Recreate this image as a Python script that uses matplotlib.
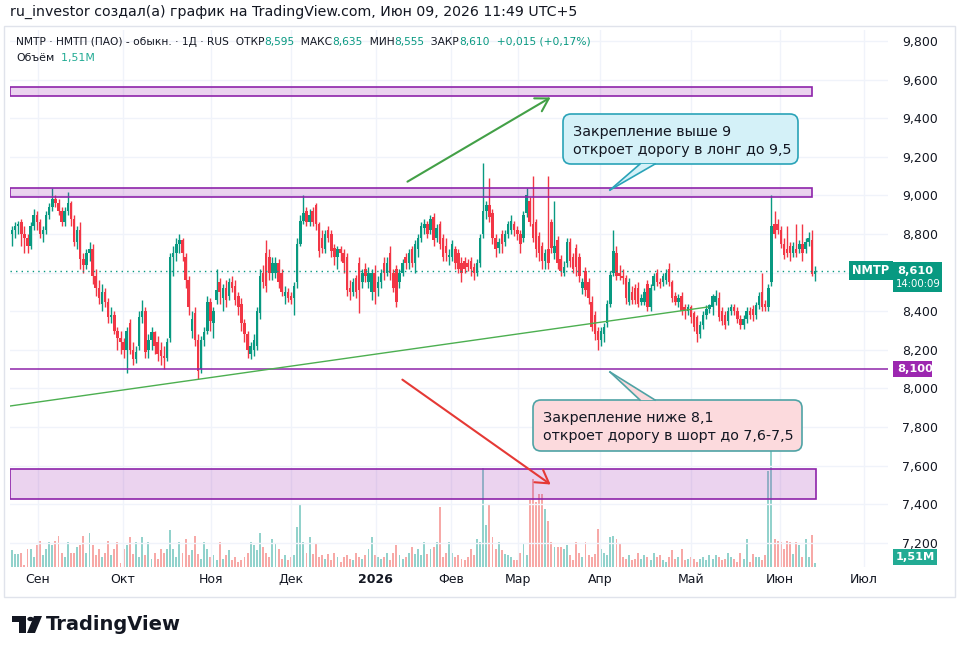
import matplotlib
matplotlib.use('Agg')
import numpy as np
import matplotlib.pyplot as plt
import matplotlib.transforms as mtransforms
from matplotlib.patches import Rectangle, FancyBboxPatch, Polygon, Circle

plt.rcParams['font.family'] = ['DejaVu Sans']

# daily candles, Aug 2025 - Jun 09 2026
opens = [8.80, 8.82, 8.84, 8.86, 8.80, 8.78, 8.74, 8.84, 8.90, 8.86,
         8.80, 8.82, 8.90, 8.94, 8.98, 8.96, 8.92, 8.86, 8.92, 8.96,
         8.88, 8.76, 8.82, 8.67, 8.64, 8.70, 8.72, 8.58, 8.52, 8.44,
         8.50, 8.45, 8.37, 8.38, 8.30, 8.26, 8.24, 8.20, 8.34, 8.20,
         8.15, 8.22, 8.37, 8.40, 8.20, 8.25, 8.29, 8.24, 8.20, 8.17,
         8.16, 8.26, 8.68, 8.70, 8.75, 8.77, 8.68, 8.56, 8.30, 8.39,
         8.25, 8.10, 8.25, 8.30, 8.45, 8.34, 8.46, 8.55, 8.47, 8.52,
         8.48, 8.55, 8.53, 8.48, 8.44, 8.34, 8.28, 8.18, 8.20, 8.22,
         8.39, 8.60, 8.70, 8.68, 8.60, 8.60, 8.65, 8.60, 8.48, 8.50,
         8.48, 8.47, 8.55, 8.75, 8.87, 8.92, 8.86, 8.92, 8.95, 8.85,
         8.78, 8.72, 8.82, 8.80, 8.73, 8.68, 8.72, 8.70, 8.68, 8.52,
         8.50, 8.57, 8.65, 8.55, 8.62, 8.55, 8.50, 8.60, 8.52, 8.55,
         8.65, 8.60, 8.70, 8.60, 8.62, 8.55, 8.60, 8.68, 8.65, 8.72,
         8.65, 8.72, 8.78, 8.83, 8.85, 8.82, 8.89, 8.78, 8.85, 8.78,
         8.74, 8.68, 8.68, 8.72, 8.70, 8.65, 8.66, 8.65, 8.66, 8.63,
         8.60, 8.65, 8.80, 8.92, 8.95, 8.91, 8.78, 8.73, 8.80, 8.76,
         8.80, 8.82, 8.85, 8.82, 8.80, 8.78, 8.91, 8.97, 8.85, 8.86,
         8.79, 8.74, 8.66, 8.72, 8.86, 8.70, 8.77, 8.67, 8.60, 8.65,
         8.76, 8.68, 8.73, 8.68, 8.52, 8.61, 8.55, 8.45, 8.38, 8.30,
         8.25, 8.28, 8.34, 8.44, 8.60, 8.70, 8.60, 8.58, 8.57, 8.45,
         8.50, 8.52, 8.52, 8.45, 8.45, 8.54, 8.42, 8.53, 8.60, 8.55,
         8.55, 8.56, 8.62, 8.55, 8.48, 8.45, 8.48, 8.42, 8.40, 8.42,
         8.39, 8.37, 8.28, 8.33, 8.38, 8.41, 8.42, 8.45, 8.47, 8.40,
         8.38, 8.35, 8.40, 8.42, 8.40, 8.36, 8.33, 8.36, 8.40, 8.41,
         8.38, 8.43, 8.50, 8.44, 8.42, 8.55, 8.85, 8.85, 8.82, 8.75,
         8.72, 8.74, 8.70, 8.72, 8.72, 8.75, 8.72, 8.76, 8.77, 8.595]

highs = [8.84, 8.86, 8.87, 8.88, 8.84, 8.80, 8.86, 8.93, 8.92, 8.88,
         8.84, 8.92, 8.96, 9.04, 9.00, 8.98, 8.94, 8.94, 9.02, 8.97,
         8.90, 8.84, 8.86, 8.70, 8.72, 8.76, 8.75, 8.62, 8.56, 8.54,
         8.52, 8.47, 8.42, 8.40, 8.32, 8.30, 8.26, 8.32, 8.36, 8.24,
         8.22, 8.40, 8.46, 8.42, 8.28, 8.32, 8.30, 8.27, 8.24, 8.22,
         8.26, 8.70, 8.74, 8.78, 8.80, 8.78, 8.70, 8.58, 8.40, 8.42,
         8.28, 8.27, 8.32, 8.48, 8.47, 8.42, 8.62, 8.57, 8.54, 8.56,
         8.57, 8.58, 8.56, 8.50, 8.47, 8.36, 8.30, 8.24, 8.28, 8.42,
         8.62, 8.64, 8.77, 8.72, 8.68, 8.68, 8.67, 8.62, 8.53, 8.52,
         8.50, 8.55, 8.78, 8.90, 9.00, 8.94, 8.93, 8.94, 8.96, 8.86,
         8.82, 8.82, 8.84, 8.82, 8.75, 8.74, 8.74, 8.72, 8.70, 8.56,
         8.57, 8.59, 8.68, 8.62, 8.65, 8.63, 8.62, 8.64, 8.58, 8.62,
         8.68, 8.68, 8.74, 8.62, 8.64, 8.62, 8.67, 8.70, 8.72, 8.74,
         8.77, 8.80, 8.86, 8.88, 8.87, 8.90, 8.91, 8.85, 8.87, 8.80,
         8.78, 8.72, 8.77, 8.74, 8.72, 8.68, 8.68, 8.67, 8.68, 8.65,
         8.67, 8.80, 9.17, 8.97, 9.09, 8.93, 8.80, 8.78, 8.82, 8.82,
         8.87, 8.90, 8.87, 8.84, 8.82, 8.92, 9.04, 8.99, 9.10, 8.88,
         8.81, 8.76, 8.72, 9.10, 8.88, 8.97, 8.79, 8.69, 8.66, 8.78,
         8.78, 8.70, 8.75, 8.70, 8.57, 8.63, 8.57, 8.48, 8.40, 8.32,
         8.32, 8.34, 8.46, 8.61, 8.82, 8.74, 8.64, 8.62, 8.59, 8.57,
         8.53, 8.54, 8.55, 8.49, 8.52, 8.56, 8.54, 8.60, 8.62, 8.57,
         8.60, 8.62, 8.65, 8.56, 8.50, 8.49, 8.50, 8.44, 8.44, 8.43,
         8.40, 8.38, 8.35, 8.40, 8.43, 8.44, 8.49, 8.51, 8.50, 8.42,
         8.40, 8.42, 8.44, 8.44, 8.42, 8.38, 8.38, 8.42, 8.42, 8.43,
         8.45, 8.50, 8.60, 8.46, 8.54, 9.00, 8.92, 8.88, 8.84, 8.78,
         8.84, 8.76, 8.76, 8.85, 8.77, 8.85, 8.78, 8.81, 8.82, 8.635]

lows = [8.74, 8.78, 8.80, 8.74, 8.70, 8.70, 8.72, 8.82, 8.82, 8.78,
        8.76, 8.80, 8.88, 8.92, 8.94, 8.90, 8.84, 8.84, 8.90, 8.84,
        8.74, 8.72, 8.62, 8.60, 8.62, 8.66, 8.54, 8.48, 8.44, 8.40,
        8.42, 8.34, 8.34, 8.28, 8.20, 8.18, 8.16, 8.08, 8.18, 8.12,
        8.13, 8.20, 8.34, 8.16, 8.16, 8.20, 8.18, 8.14, 8.12, 8.10,
        8.14, 8.24, 8.58, 8.66, 8.70, 8.66, 8.52, 8.38, 8.26, 8.22,
        8.05, 8.08, 8.22, 8.28, 8.30, 8.26, 8.44, 8.44, 8.40, 8.42,
        8.46, 8.50, 8.43, 8.38, 8.30, 8.24, 8.16, 8.15, 8.17, 8.20,
        8.36, 8.52, 8.50, 8.56, 8.56, 8.57, 8.52, 8.48, 8.44, 8.45,
        8.44, 8.38, 8.52, 8.74, 8.85, 8.84, 8.84, 8.84, 8.82, 8.68,
        8.70, 8.70, 8.76, 8.68, 8.64, 8.62, 8.66, 8.60, 8.48, 8.46,
        8.48, 8.47, 8.39, 8.52, 8.55, 8.52, 8.46, 8.44, 8.48, 8.52,
        8.56, 8.58, 8.56, 8.50, 8.42, 8.52, 8.58, 8.62, 8.62, 8.63,
        8.60, 8.68, 8.76, 8.80, 8.78, 8.80, 8.74, 8.76, 8.72, 8.66,
        8.66, 8.64, 8.66, 8.62, 8.60, 8.55, 8.60, 8.61, 8.58, 8.56,
        8.58, 8.63, 8.78, 8.88, 8.86, 8.75, 8.68, 8.70, 8.70, 8.74,
        8.78, 8.80, 8.79, 8.77, 8.70, 8.76, 8.89, 8.84, 8.76, 8.68,
        8.66, 8.62, 8.62, 8.62, 8.70, 8.67, 8.62, 8.58, 8.58, 8.63,
        8.63, 8.60, 8.58, 8.55, 8.49, 8.48, 8.44, 8.30, 8.25, 8.20,
        8.22, 8.24, 8.32, 8.42, 8.58, 8.56, 8.56, 8.54, 8.44, 8.43,
        8.44, 8.44, 8.42, 8.43, 8.43, 8.40, 8.40, 8.51, 8.53, 8.52,
        8.53, 8.54, 8.53, 8.45, 8.43, 8.42, 8.38, 8.36, 8.38, 8.34,
        8.30, 8.24, 8.26, 8.31, 8.36, 8.39, 8.38, 8.43, 8.35, 8.33,
        8.31, 8.33, 8.38, 8.38, 8.34, 8.31, 8.31, 8.34, 8.36, 8.35,
        8.36, 8.41, 8.40, 8.40, 8.40, 8.53, 8.78, 8.80, 8.73, 8.67,
        8.68, 8.66, 8.68, 8.68, 8.70, 8.66, 8.70, 8.74, 8.58, 8.555]

closes = [8.82, 8.84, 8.85, 8.80, 8.78, 8.74, 8.84, 8.90, 8.86, 8.80,
          8.82, 8.90, 8.94, 8.98, 8.96, 8.92, 8.86, 8.92, 8.96, 8.88,
          8.76, 8.82, 8.67, 8.64, 8.70, 8.72, 8.58, 8.52, 8.47, 8.50,
          8.45, 8.37, 8.38, 8.30, 8.26, 8.24, 8.20, 8.30, 8.20, 8.15,
          8.19, 8.37, 8.40, 8.19, 8.25, 8.29, 8.22, 8.18, 8.17, 8.16,
          8.24, 8.68, 8.70, 8.75, 8.77, 8.70, 8.56, 8.42, 8.36, 8.25,
          8.09, 8.25, 8.29, 8.45, 8.35, 8.40, 8.51, 8.50, 8.52, 8.46,
          8.55, 8.52, 8.46, 8.42, 8.34, 8.28, 8.20, 8.22, 8.25, 8.40,
          8.58, 8.55, 8.53, 8.60, 8.65, 8.65, 8.55, 8.50, 8.50, 8.47,
          8.46, 8.53, 8.75, 8.87, 8.91, 8.86, 8.90, 8.86, 8.85, 8.71,
          8.73, 8.80, 8.78, 8.71, 8.68, 8.72, 8.70, 8.65, 8.51, 8.50,
          8.55, 8.50, 8.51, 8.60, 8.58, 8.60, 8.60, 8.50, 8.55, 8.60,
          8.60, 8.65, 8.60, 8.52, 8.45, 8.60, 8.65, 8.65, 8.70, 8.65,
          8.75, 8.78, 8.84, 8.85, 8.80, 8.88, 8.77, 8.83, 8.75, 8.68,
          8.70, 8.69, 8.75, 8.65, 8.62, 8.60, 8.62, 8.63, 8.62, 8.60,
          8.65, 8.78, 8.92, 8.95, 8.89, 8.78, 8.72, 8.76, 8.75, 8.80,
          8.85, 8.87, 8.82, 8.80, 8.75, 8.90, 9.00, 8.86, 8.78, 8.72,
          8.70, 8.66, 8.70, 8.65, 8.73, 8.74, 8.65, 8.61, 8.63, 8.76,
          8.66, 8.62, 8.63, 8.58, 8.55, 8.51, 8.47, 8.32, 8.28, 8.25,
          8.30, 8.32, 8.44, 8.59, 8.71, 8.58, 8.58, 8.57, 8.47, 8.55,
          8.46, 8.46, 8.44, 8.47, 8.50, 8.42, 8.52, 8.58, 8.55, 8.54,
          8.58, 8.60, 8.55, 8.47, 8.45, 8.47, 8.40, 8.40, 8.42, 8.37,
          8.32, 8.28, 8.33, 8.38, 8.41, 8.43, 8.48, 8.48, 8.37, 8.35,
          8.33, 8.40, 8.42, 8.40, 8.36, 8.33, 8.36, 8.40, 8.38, 8.38,
          8.43, 8.48, 8.42, 8.42, 8.52, 8.84, 8.80, 8.82, 8.75, 8.69,
          8.70, 8.70, 8.74, 8.70, 8.75, 8.70, 8.76, 8.78, 8.595, 8.61]

# volume, millions
volumes = [7, 5.5, 5.5, 6, 1, 7.5, 7.5, 4, 9,
           11, 5, 7.5, 10.5, 9, 11, 13, 6, 4,
           10.5, 6, 6, 8.5, 9, 13, 6, 14, 9, 5,
           7.5, 4, 6, 11, 5, 7.5, 10.5, 1.5, 7.5, 9,
           12.5, 5.5, 10.5, 4, 12.5, 5, 10.5, 3.5, 6, 3.5,
           7.5, 6, 7.5, 15.5, 7.5, 4, 10.5, 6, 11.5, 5,
           7, 13, 5.5, 3.5, 10.5, 7.5, 4, 5, 3, 10.5,
           3.5, 5, 7, 3, 4, 2, 3, 4, 6, 10.5, 9, 7,
           14, 8.5, 6, 4, 11.5, 9.5, 7.5, 3.5, 5, 3, 4, 5,
           16.5, 26, 10.5, 6, 12.5, 5.5, 9.5, 4,
           5, 3.5, 5.5, 3, 6, 4, 2, 4, 5, 3.5, 3, 6, 4, 3.5, 5, 7.5,
           12.5, 5, 4, 3.5, 4, 6, 3, 6, 9, 5, 3.5, 4, 6, 8.5, 5.5, 7.5, 5, 10.5, 5.5, 7.5,
           8.5, 10.5, 25, 4, 6, 10.5, 6, 4, 5, 3.5, 3, 4,
           7.5, 5, 11.5, 10.5,
           41.5, 17.5, 26, 12.5,
           7.5, 10.5, 7, 5.5, 5, 4, 3, 3, 6, 9.5, 5,
           28, 36.5, 27, 30.5, 30.5, 24, 19, 10.5, 8.5, 8.5,
           8.5, 7.5, 9, 5, 3, 10.5, 6, 4, 10.5, 5, 4, 5.5, 16, 7.5, 6, 5, 12.5, 13,
           11.5, 9.5, 4, 3.5, 5, 3, 3.5, 6, 3.5, 5, 4, 3, 6, 4, 5, 3, 2, 4, 7, 3.5,
           4, 7.5, 3, 3.5, 4, 3.5, 2, 3.5, 4, 3, 5, 3.5, 5, 4, 3, 3.5, 6, 4, 3.5, 2,
           6, 3.5, 11.5, 2, 5.5, 4, 4, 3, 5,
           40, 52,
           11.5, 11, 10.5, 7.5, 11, 10.5, 5.5, 10.5, 9, 4, 11.5, 4, 13.5, 1.51]

month_labels = ['Сен', 'Окт', 'Ноя', 'Дек', '2026', 'Фев', 'Мар', 'Апр', 'Май', 'Июн', 'Июл']
month_pos = [8.4, 35.8, 64.2, 90, 117.4, 141.6, 163.2, 189.7, 219, 247.7, 274.8]
price_ticks = [7.2, 7.4, 7.6, 7.8, 8.0, 8.2, 8.4, 8.6, 8.8, 9.0, 9.2, 9.4, 9.6, 9.8]

# drawings: (low, high, right end in bars)
zones = [(9.515, 9.562, 258), (8.992, 9.038, 258), (7.427, 7.582, 259.4)]
support = 8.1
last_price = 8.61
trend = ([-0.65, 224.5], [7.909, 8.422])
green_arrow = ((126.8, 9.064), (174.5, 9.515))
red_arrow = ((125.2, 8.054), (174.5, 7.494))

GREEN = '#089981'
RED = '#f23645'
PURPLE = '#8e24aa'
TXT = '#131722'

W, H = 965, 654
def fx(px): return px / W
def fy(py): return 1 - py / H

fig = plt.figure(figsize=(W / 100, H / 100), dpi=100)
fig.patch.set_facecolor('white')

ax = fig.add_axes([fx(10), fy(567), fx(888) - fx(10), fy(30) - fy(567)])
vax = ax.twinx()
ax.set_zorder(vax.get_zorder() + 1)
ax.patch.set_visible(False)

o = np.array(opens); h = np.array(highs); l = np.array(lows); c = np.array(closes)
x = np.arange(len(c))
up = c >= o
cols = np.where(up, GREEN, RED)

# volume
vcols = np.where(up, '#92d2cc', '#f7a9a7')
vax.bar(x, volumes, width=0.62, color=vcols, linewidth=0)
vax.set_ylim(0, 224)
vax.set_axis_off()

# candles
ax.vlines(x, l, h, colors=cols, linewidth=1.0, zorder=3)
ax.bar(x, np.maximum(np.abs(c - o), 0.004), bottom=np.minimum(o, c), width=0.8,
       color=cols, linewidth=0, zorder=4)

ax.set_xlim(-0.65, 282.6)
ax.set_ylim(7.075, 9.857)

# grid / ticks (8,600 sits under the last-price tag)
ax.set_xticks(month_pos)
ax.set_xticklabels(month_labels)
for t in ax.get_xticklabels():
    if t.get_text() == '2026':
        t.set_fontweight('bold')
ax.set_yticks(price_ticks)
ax.set_yticklabels(['' if abs(v - last_price) < 0.05 else f'{v:.3f}'.replace('.', ',')
                    for v in price_ticks])
ax.yaxis.tick_right()
ax.tick_params(axis='y', length=0, pad=10, labelsize=9, colors=TXT)
ax.tick_params(axis='x', length=0, pad=4, labelsize=9, colors=TXT)
ax.grid(True, color='#f0f3fa', linewidth=1)
ax.set_axisbelow(True)
for s in ax.spines.values():
    s.set_visible(False)

# zones and levels
for lo, hi, right in zones:
    ax.add_patch(Rectangle((-0.65, lo), right + 0.65, hi - lo,
                           facecolor=(156 / 255, 39 / 255, 176 / 255, 0.2),
                           edgecolor=PURPLE, linewidth=1.2, zorder=5))
ax.axhline(support, color=PURPLE, linewidth=1.1, zorder=5)
ax.axhline(last_price, color=GREEN, linewidth=1, linestyle=(0, (1, 3)), zorder=5)
ax.plot(trend[0], trend[1], color='#4caf50', linewidth=1, zorder=5)

ax.annotate('', xy=green_arrow[1], xytext=green_arrow[0],
            arrowprops=dict(arrowstyle='->,head_length=0.5,head_width=0.3',
                            color='#43a047', lw=1.5, mutation_scale=18), zorder=6)
ax.annotate('', xy=red_arrow[1], xytext=red_arrow[0],
            arrowprops=dict(arrowstyle='->,head_length=0.5,head_width=0.3',
                            color='#e53935', lw=1.5, mutation_scale=18), zorder=6)

# price scale tags
tb = mtransforms.blended_transform_factory(ax.transAxes, ax.transData)
ppx = (9.857 - 7.075) / 537
def axf(px): return (px - 10) / 878

ax.text(axf(871), last_price, 'NMTP', transform=tb, ha='center', va='center',
        fontsize=8.3, fontweight='bold', color='white', zorder=20,
        bbox=dict(boxstyle='square,pad=0.25', fc=GREEN, ec='none'))
ax.add_patch(Rectangle((axf(893), last_price - 21.5 * ppx), axf(942) - axf(893), 30 * ppx,
                       transform=tb, facecolor=GREEN, edgecolor='none', clip_on=False, zorder=20))
ax.text(axf(897), last_price, '8,610', transform=tb, va='center', fontsize=8.2,
        fontweight='bold', color='white', zorder=21, clip_on=False)
ax.text(axf(896), last_price - 13.5 * ppx, '14:00:09', transform=tb, va='center', fontsize=7.3,
        color='white', zorder=21, clip_on=False)

ax.add_patch(Rectangle((axf(893), support - 8 * ppx), axf(932) - axf(893), 16 * ppx,
                       transform=tb, facecolor='#9c27b0', edgecolor='none', clip_on=False, zorder=20))
ax.text(axf(897), support, '8,100', transform=tb, va='center', fontsize=8.2,
        fontweight='bold', color='white', zorder=21, clip_on=False)

fig.add_artist(Rectangle((fx(893), fy(565)), fx(937) - fx(893), fy(549) - fy(565),
                         transform=fig.transFigure, facecolor='#22ab94', edgecolor='none'))
fig.text(fx(915), fy(557), '1,51M', ha='center', va='center', fontsize=8.2,
         fontweight='bold', color='white')

# callouts
def callout(x0, y0, x1, y1, fc, ec, tip, base):
    fig.add_artist(FancyBboxPatch((fx(x0), fy(y1)), fx(x1) - fx(x0), fy(y0) - fy(y1),
                                  boxstyle=f'round,pad=0,rounding_size={8 / W}',
                                  mutation_aspect=W / H, transform=fig.transFigure,
                                  facecolor=fc, edgecolor=ec, linewidth=1.2, zorder=7))
    pts = [(fx(tip[0]), fy(tip[1])), (fx(base[0]), fy(base[2])), (fx(base[1]), fy(base[2]))]
    fig.add_artist(Polygon(pts, closed=True, transform=fig.transFigure,
                           facecolor=fc, edgecolor='none', zorder=8))
    for p in pts[1:]:
        fig.add_artist(plt.Line2D([pts[0][0], p[0]], [pts[0][1], p[1]],
                                  transform=fig.transFigure, color=ec, linewidth=1.2, zorder=9))

callout(563, 114, 798, 164, '#d4f1f8', '#2aa3b8', (610, 190), (640, 655, 164))
fig.text(fx(573), fy(132), 'Закрепление выше 9', fontsize=10.3, va='center', color=TXT, zorder=10)
fig.text(fx(573), fy(150), 'откроет дорогу в лонг до 9,5', fontsize=10.3, va='center', color=TXT, zorder=10)

callout(533, 400, 802, 451, '#fcdadd', '#4fa3a5', (610, 372), (640, 655, 400))
fig.text(fx(543), fy(418), 'Закрепление ниже 8,1', fontsize=10.3, va='center', color=TXT, zorder=10)
fig.text(fx(543), fy(436), 'откроет дорогу в шорт до 7,6-7,5', fontsize=10.3, va='center', color=TXT, zorder=10)

# header and legend
fig.text(fx(10), fy(12), 'ru_investor создал(а) график на TradingView.com, Июн 09, 2026 11:49 UTC+5',
         fontsize=10.2, va='center', color=TXT)

renderer = fig.canvas.get_renderer()
def segments(x_px, y_px, segs, size):
    xx = fx(x_px)
    for s, col in segs:
        t = fig.text(xx, fy(y_px), s, color=col, fontsize=size, va='center')
        xx += t.get_window_extent(renderer=renderer).width / W

segments(16, 42, [('NMTP · НМТП (ПАО) - обыкн. · 1Д · RUS', TXT), ('  ОТКР', TXT), ('8,595', GREEN),
                  ('  МАКС', TXT), ('8,635', GREEN), ('  МИН', TXT), ('8,555', GREEN),
                  ('  ЗАКР', TXT), ('8,610', GREEN), ('  +0,015 (+0,17%)', GREEN)], 7.7)
segments(16, 58, [('Объём', TXT), ('  1,51M', '#22ab94')], 7.9)

# outer frame
fig.add_artist(Rectangle((fx(4), fy(597)), fx(955) - fx(4), fy(26) - fy(597),
                         transform=fig.transFigure, fill=False, edgecolor='#e0e3eb', linewidth=1))

# footer logo
fig.add_artist(Rectangle((fx(12), fy(622)), fx(26) - fx(12), fy(616) - fy(622),
                         transform=fig.transFigure, facecolor=TXT, edgecolor='none'))
fig.add_artist(Rectangle((fx(19), fy(633)), fx(26) - fx(19), fy(616) - fy(633),
                         transform=fig.transFigure, facecolor=TXT, edgecolor='none'))
fig.add_artist(Circle((fx(30.5), fy(619)), 3.2 / W, transform=fig.transFigure,
                      facecolor=TXT, edgecolor='none'))
fig.add_artist(Polygon([(fx(34), fy(616)), (fx(42), fy(616)), (fx(35), fy(633)), (fx(27), fy(633))],
                       closed=True, transform=fig.transFigure, facecolor=TXT, edgecolor='none'))
fig.text(fx(46), fy(625), 'TradingView', fontsize=14, fontweight='bold', va='center', color=TXT)

fig.savefig('out.png', dpi=100, facecolor='white')
